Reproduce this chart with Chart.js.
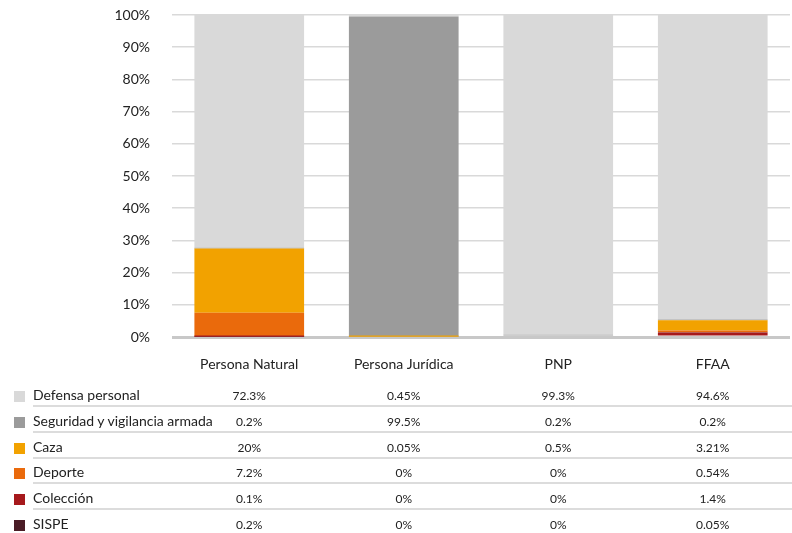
<!DOCTYPE html>
<html>
<head>
<meta charset="utf-8">
<script src="https://cdn.jsdelivr.net/npm/chart.js@4"></script>
<style>
  body { margin: 0; background: #fff; font-family: Lato, "Noto Sans", sans-serif; }
  #wrap { position: relative; width: 792px; height: 533px; }
  #chart { position: absolute; left: 0; top: 0; }
  .row { position: absolute; left: 0; width: 792px; height: 26px; }
  .sw { position: absolute; left: 14px; width: 11px; height: 11px; }
  .lbl { position: absolute; left: 33px; font-size: 14px; color: #222; white-space: nowrap; }
  .line { position: absolute; left: 33px; right: 0; height: 2px; background: #dcdcdc; }
  .val { position: absolute; font-size: 12px; color: #222; transform: translateX(-50%); white-space: nowrap; }
</style>
</head>
<body>
<div id="wrap">
  <canvas id="chart" width="792" height="533"></canvas>
  <div id="table"></div>
</div>
<script>
const categories = ['Persona Natural', 'Persona Jurídica', 'PNP', 'FFAA'];

const seriesNames = ['Defensa personal', 'Seguridad y vigilancia armada', 'Caza', 'Deporte', 'Colección', 'SISPE'];
const seriesColors = ['#d9d9d9', '#9b9b9b', '#f2a200', '#ea6a0c', '#a6191c', '#4a1c26'];

const defensaPersonal = [72.3, 0.45, 99.3, 94.6];
const seguridad = [0.2, 99.5, 0.2, 0.2];
const caza = [20, 0.05, 0.5, 3.21];
const deporte = [7.2, 0, 0, 0.54];
const coleccion = [0.1, 0, 0, 1.4];
const sispe = [0.2, 0, 0, 0.05];

// text exactly as printed in the table
const tableText = [
    ['72.3%', '0.45%', '99.3%', '94.6%'],
    ['0.2%', '99.5%', '0.2%', '0.2%'],
    ['20%', '0.05%', '0.5%', '3.21%'],
    ['7.2%', '0%', '0%', '0.54%'],
    ['0.1%', '0%', '0%', '1.4%'],
    ['0.2%', '0%', '0%', '0.05%']
];

const seriesValues = [defensaPersonal, seguridad, caza, deporte, coleccion, sispe];

// stacking order bottom -> top
const stackOrder = [4, 5, 3, 2, 1, 0];

const datasets = stackOrder.map(i => ({
    label: seriesNames[i],
    data: seriesValues[i],
    backgroundColor: seriesColors[i],
    borderWidth: 0,
    categoryPercentage: 1,
    barPercentage: 0.71
}));

const tablePlugin = {
    id: 'dataTable',
    afterRender(chart) {
        if (chart._tableDone) return;
        chart._tableDone = true;
        const x = chart.scales.x;
        const table = document.getElementById('table');
        const rowTop = 384;
        const rowH = 25.8;
        seriesNames.forEach((name, r) => {
            const top = rowTop + r * rowH;
            const row = document.createElement('div');
            row.className = 'row';
            row.style.top = top + 'px';
            let html = '<div class="sw" style="top:7px;background:' + seriesColors[r] + '"></div>' +
                '<div class="lbl" style="top:2px">' + name + '</div>';
            categories.forEach((c, j) => {
                html += '<div class="val" style="top:4px;left:' + x.getPixelForValue(j) + 'px">' + tableText[r][j] + '</div>';
            });
            if (r < seriesNames.length - 1) html += '<div class="line" style="top:21px"></div>';
            row.innerHTML = html;
            table.appendChild(row);
        });
    }
};

new Chart(document.getElementById('chart').getContext('2d'), {
    type: 'bar',
    data: { labels: categories, datasets: datasets },
    options: {
        responsive: false,
        animation: false,
        events: [],
        layout: { padding: { top: 15, right: 2, bottom: 164, left: 0 } },
        plugins: { legend: { display: false }, tooltip: { enabled: false } },
        scales: {
            x: {
                stacked: true,
                grid: { display: false },
                border: { display: false },
                afterFit: s => { s.height = 32; },
                ticks: { color: '#222', font: { family: 'Lato', size: 14 }, padding: 11 }
            },
            y: {
                stacked: true,
                min: 0,
                max: 100,
                afterFit: s => { s.width = 172; },
                ticks: {
                    stepSize: 10,
                    color: '#222',
                    font: { family: 'Lato', size: 14 },
                    padding: 4,
                    callback: v => v + '%'
                },
                grid: {
                    color: ctx => ctx.tick && ctx.tick.value === 0 ? '#c8c8c8' : '#d9d9d9',
                    lineWidth: ctx => ctx.tick && ctx.tick.value === 0 ? 3 : 1.5,
                    drawTicks: true,
                    tickLength: 18,
                    tickColor: 'rgba(0,0,0,0)'
                },
                border: { display: false }
            }
        }
    },
    plugins: [tablePlugin]
});
</script>
</body>
</html>
